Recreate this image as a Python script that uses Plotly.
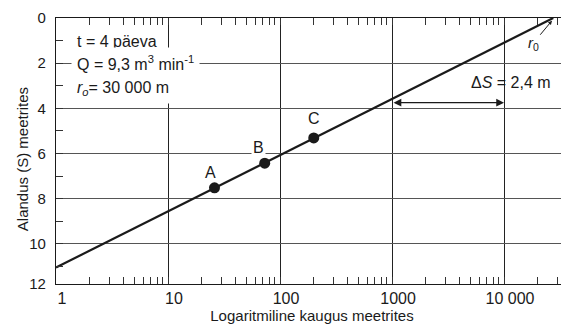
import numpy as np
import plotly.graph_objects as go

# ---- data ----
line_r = [1, 27500]          # distance (m)
line_s = [11.05, 0.0]        # drawdown (m)

pt_names = ["A", "B", "C"]
pt_r = [26, 73, 200]
pt_s = [7.52, 6.43, 5.31]

x_major = [1, 10, 100, 1000, 10000]
x_major_text = ["1", "10", "100", "1000", "10 000"]
x_minor = [k * 10 ** d for d in range(5) for k in range(2, 10)]
y_major = [0, 2, 4, 6, 8, 10, 11.78]
y_major_text = ["0", "2", "4", "6", "8", "10", "12"]
y_minor = [1, 3, 5, 7, 9, 11]

ds_from, ds_to, ds_level = 1000, 10000, 3.75

FONT = "Arial, Liberation Sans, sans-serif"
INK = "#1a1a1a"

# tick arrays for the primary axes (labels only on the major positions)
x_ticks = sorted([(v, t) for v, t in zip(x_major, x_major_text)] + [(v, "") for v in x_minor])
y_ticks = sorted([(v, t) for v, t in zip(y_major, y_major_text)] + [(v, "") for v in y_minor])

fig = go.Figure()
fig.add_trace(go.Scatter(x=line_r, y=line_s, mode="lines",
                         line=dict(color=INK, width=2.2), hoverinfo="skip",
                         showlegend=False, cliponaxis=False))
fig.add_trace(go.Scatter(x=pt_r, y=pt_s, mode="markers",
                         marker=dict(color=INK, size=11), showlegend=False))
# ghost trace so the grid-only overlay axes are drawn
fig.add_trace(go.Scatter(x=line_r, y=line_s, xaxis="x2", yaxis="y2", mode="lines",
                         line=dict(width=0), opacity=0, hoverinfo="skip",
                         showlegend=False))

xr = [0, 4.571]
yr = [11.78, 0]
fig.update_layout(
    width=561, height=326,
    margin=dict(l=48, r=1, t=10, b=50),
    paper_bgcolor="white", plot_bgcolor="white",
    font=dict(family=FONT, size=15, color=INK),
    xaxis=dict(type="log", range=xr, tickmode="array",
               tickvals=[v for v, _ in x_ticks], ticktext=[t for _, t in x_ticks],
               ticks="inside", ticklen=7, tickcolor="#333", tickwidth=1,
               mirror="ticks", showgrid=False, showline=True, linecolor=INK,
               linewidth=1.2, zeroline=False, ticklabelshift=6,
               ticklabelstandoff=0, automargin=False, tickfont=dict(size=16),
               title=dict(text="Logaritmiline kaugus meetrites",
                          font=dict(size=15), standoff=4)),
    yaxis=dict(range=yr, tickmode="array",
               tickvals=[v for v, _ in y_ticks], ticktext=[t for _, t in y_ticks],
               ticks="inside", ticklen=7, tickcolor="#333", tickwidth=1,
               mirror="ticks", showgrid=False, showline=True, linecolor=INK,
               linewidth=1.2, zeroline=False, ticklabelstandoff=6,
               automargin=False, tickfont=dict(size=15)),
    xaxis2=dict(type="log", range=xr, overlaying="x", side="bottom",
                tickmode="array", tickvals=x_major[1:], showticklabels=False,
                ticks="", showgrid=True, gridcolor="#222", gridwidth=1,
                zeroline=False, showline=False, automargin=False),
    yaxis2=dict(range=yr, overlaying="y", side="left", tickmode="array",
                tickvals=y_major[1:-1], showticklabels=False, ticks="",
                showgrid=True, gridcolor="#555", gridwidth=1.2, zeroline=False,
                showline=False, automargin=False),
)

# y-axis title
fig.add_annotation(xref="paper", yref="paper", x=-0.064, y=0.47,
                   text="Alandus (S) meetrites", textangle=-90, showarrow=False,
                   xanchor="center", yanchor="middle", font=dict(size=15))

# parameter box
box_lines = [("t = 4 päeva", 1.05),
             ("Q = 9,3 m<sup>3</sup> min<sup>-1</sup>", 2.0),
             ("<i>r</i><sub><i>o</i></sub>= 30 000 m", 3.1)]
for txt, yv in box_lines:
    fig.add_annotation(x=np.log10(1.35), y=yv, xref="x", yref="y", text=txt,
                       showarrow=False, xanchor="left", yanchor="middle",
                       font=dict(size=16), bgcolor="white", borderpad=5)

# point labels
shifts = {"A": (-4, 15), "B": (-6, 16), "C": (0, 19)}
for n, r, s in zip(pt_names, pt_r, pt_s):
    dx, dy = shifts[n]
    fig.add_annotation(x=np.log10(r), y=s, text=n, showarrow=False,
                       xshift=dx, yshift=dy, font=dict(size=16),
                       bgcolor="white" if n == "B" else "rgba(0,0,0,0)",
                       borderpad=1)

# delta S double arrow
fig.add_annotation(x=np.log10(ds_to), y=ds_level, ax=np.log10(ds_from), ay=ds_level,
                   xref="x", yref="y", axref="x", ayref="y", text="",
                   showarrow=True, arrowhead=2, arrowside="end+start",
                   arrowsize=1.2, arrowwidth=1.3, arrowcolor=INK)
fig.add_annotation(x=np.log10(11500), y=2.85, text="Δ<i>S</i> = 2,4 m",
                   showarrow=False, font=dict(size=16))

# r0 marker
fig.add_annotation(x=np.log10(line_r[1]), y=line_s[1] + 0.05,
                   text="<i>r</i><sub>0</sub>", showarrow=True,
                   ax=-20, ay=24, arrowhead=2, arrowsize=0.8, arrowwidth=1,
                   arrowcolor=INK, standoff=2, font=dict(size=15))

fig.write_html("out.html")
